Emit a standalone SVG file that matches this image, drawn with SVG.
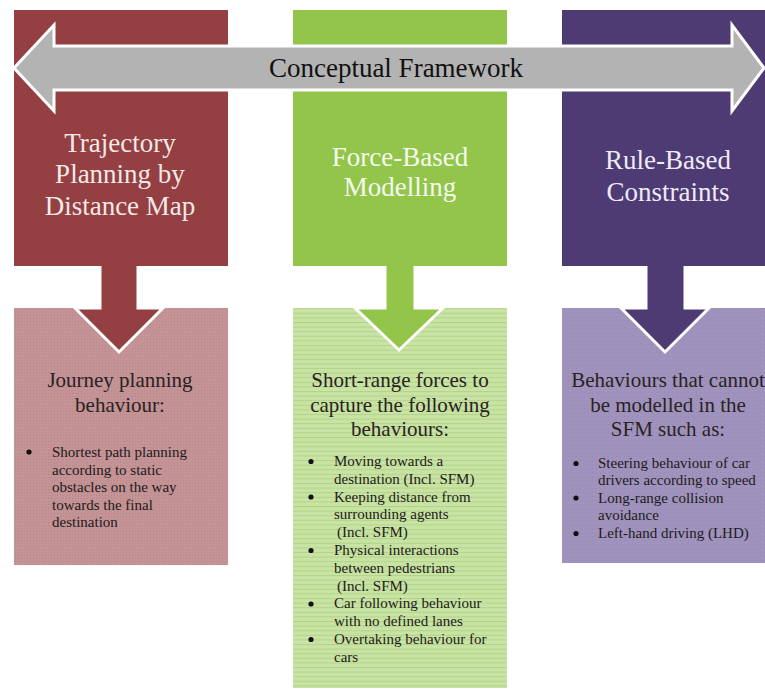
<svg xmlns="http://www.w3.org/2000/svg" width="765" height="691" viewBox="0 0 765 691" font-family="'Liberation Serif', 'DejaVu Serif', serif">
  <style>
    text { font-family: "Liberation Serif", "DejaVu Serif", serif; }
    .hdr { font-size: 27px; text-anchor: middle; }
    .sub { font-size: 21px; text-anchor: middle; fill: #2a2222; }
    .item { font-size: 15px; fill: #1e1a1a; }
    .bul { fill: #111; }
    .down { stroke: #ffffff; stroke-width: 3; stroke-linejoin: miter; }
  </style>
  <defs>
    <pattern id="redTex" width="3" height="3" patternUnits="userSpaceOnUse">
      <rect width="3" height="3" fill="#c39395"/>
      <rect x="0" y="0" width="1" height="1" fill="#b98789"/>
    </pattern>
    <pattern id="purTex" width="4" height="4" patternUnits="userSpaceOnUse">
      <rect width="4" height="4" fill="#9f93bd"/>
      <rect x="0" y="0" width="1" height="1" fill="#968ab5"/>
    </pattern>
    <pattern id="grnTex" width="10" height="4.6" patternUnits="userSpaceOnUse">
      <rect width="10" height="4.6" fill="#c8e3a4"/>
      <rect x="0" y="0" width="10" height="1" fill="#b2d488"/>
    </pattern>
  </defs>
  <rect width="765" height="691" fill="#ffffff"/>

  <!-- bottom boxes -->
  <g id="box-journey">
    <rect x="14" y="308" width="214" height="257" fill="url(#redTex)"/>
  </g>
  <g id="box-short-range">
    <rect x="293" y="308" width="214" height="380" fill="url(#grnTex)"/>
  </g>
  <g id="box-rule-behaviours">
    <rect x="562" y="308" width="203" height="255" fill="url(#purTex)"/>
  </g>

  <!-- connectors: down arrows -->
  <g id="connectors">
    <polygon class="down" fill="#943f41" points="100,255 138,255 138,308 163,308 119,352 75,308 100,308"/>
    <polygon class="down" fill="#93c54b" points="385,255 415,255 415,308 443,308 399,350 355,308 385,308"/>
    <polygon class="down" fill="#4e3b73" points="646,255 685,255 685,308 709,308 665,352 621,308 646,308"/>
  </g>

  <!-- top boxes -->
  <g id="box-trajectory">
    <rect x="14" y="10" width="214" height="256" fill="#943f41"/>
  </g>
  <g id="box-force">
    <rect x="293" y="10" width="214" height="256" fill="#93c54b"/>
  </g>
  <g id="box-rule">
    <rect x="562" y="10" width="203" height="256" fill="#4e3b73"/>
  </g>

  <!-- conceptual framework double arrow -->
  <g id="framework">
    <polygon points="14,68 54,25 54,46 732,46 732,25 764,68 732,111 732,90 54,90 54,111" fill="#b3b3b3" stroke="#ffffff" stroke-width="3" stroke-linejoin="miter"/>
    <text x="396" y="77" font-size="27" text-anchor="middle" fill="#111">Conceptual Framework</text>
  </g>

  <!-- header texts -->
  <g id="label-trajectory">
    <text class="hdr" fill="#f3e8e8" x="120" y="152">Trajectory</text>
    <text class="hdr" fill="#f3e8e8" x="120" y="183">Planning by</text>
    <text class="hdr" fill="#f3e8e8" x="120" y="215">Distance Map</text>
  </g>
  <g id="label-force">
    <text class="hdr" fill="#f5faef" x="400" y="166" font-size="25">Force-Based</text>
    <text class="hdr" fill="#f5faef" x="400" y="196" font-size="25">Modelling</text>
  </g>
  <g id="label-rule">
    <text class="hdr" fill="#efebf6" x="668" y="169">Rule-Based</text>
    <text class="hdr" fill="#efebf6" x="668" y="201">Constraints</text>
  </g>

  <!-- bottom texts -->
  <g id="text-journey">
    <text class="sub" x="120" y="387">Journey planning</text>
    <text class="sub" x="120" y="412">behaviour:</text>
    <circle class="bul" cx="29" cy="452" r="2.6"/>
    <text class="item" x="52" y="457">Shortest path planning</text>
    <text class="item" x="52" y="474.5">according to static</text>
    <text class="item" x="52" y="492">obstacles on the way</text>
    <text class="item" x="52" y="509.5">towards the final</text>
    <text class="item" x="52" y="527">destination</text>
  </g>
  <g id="text-short-range">
    <text class="sub" x="400" y="387" font-size="21.5">Short-range forces to</text>
    <text class="sub" x="400" y="412" font-size="21.5">capture the following</text>
    <text class="sub" x="400" y="436" font-size="21.5">behaviours:</text>
    <circle class="bul" cx="311" cy="461.5" r="2.6"/>
    <circle class="bul" cx="311" cy="497" r="2.6"/>
    <circle class="bul" cx="311" cy="550.5" r="2.6"/>
    <circle class="bul" cx="311" cy="604" r="2.6"/>
    <circle class="bul" cx="311" cy="639.5" r="2.6"/>
    <text class="item" x="334" y="466">Moving towards a</text>
    <text class="item" x="334" y="483.8">destination (Incl. SFM)</text>
    <text class="item" x="334" y="501.6">Keeping distance from</text>
    <text class="item" x="334" y="519.4">surrounding agents</text>
    <text class="item" x="337" y="537.2">(Incl. SFM)</text>
    <text class="item" x="334" y="555">Physical interactions</text>
    <text class="item" x="334" y="572.8">between pedestrians</text>
    <text class="item" x="337" y="590.6">(Incl. SFM)</text>
    <text class="item" x="334" y="608.4">Car following behaviour</text>
    <text class="item" x="334" y="626.2">with no defined lanes</text>
    <text class="item" x="334" y="644">Overtaking behaviour for</text>
    <text class="item" x="334" y="661.8">cars</text>
  </g>
  <g id="text-rule-behaviours">
    <text class="sub" x="668" y="387">Behaviours that cannot</text>
    <text class="sub" x="668" y="412">be modelled in the</text>
    <text class="sub" x="668" y="436">SFM such as:</text>
    <circle class="bul" cx="576" cy="463.5" r="2.6"/>
    <circle class="bul" cx="576" cy="498" r="2.6"/>
    <circle class="bul" cx="576" cy="533.5" r="2.6"/>
    <text class="item" x="598" y="468">Steering behaviour of car</text>
    <text class="item" x="598" y="485">drivers according to speed</text>
    <text class="item" x="598" y="502.5">Long-range collision</text>
    <text class="item" x="598" y="520">avoidance</text>
    <text class="item" x="598" y="538">Left-hand driving (LHD)</text>
  </g>
</svg>
